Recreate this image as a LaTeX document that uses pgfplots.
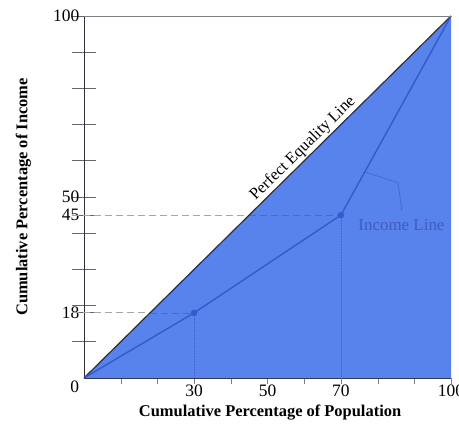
\documentclass[border=0pt]{standalone}
\usepackage{fontspec}
\setmainfont{Liberation Serif}
\usepackage{pgfplots}
\pgfplotsset{compat=1.18}

\definecolor{areablue}{RGB}{88,130,236}
\definecolor{incomeblue}{RGB}{52,90,205}
\definecolor{labelblue}{RGB}{66,92,190}
\definecolor{axisdark}{RGB}{45,45,60}

\begin{document}
\begin{tikzpicture}
\begin{axis}[
    scale only axis,
    width=367bp, height=362bp,
    xmin=0, xmax=100, ymin=0, ymax=100,
    axis lines*=left,
    axis line style={axisdark, line width=1pt},
    clip=false,
    /pgf/number format/assume math mode=true,
    tick label style={font=\fontsize{17.5}{17.5}\selectfont},
    label style={font=\fontsize{16.5}{18}\selectfont\bfseries},
    xtick={10,20,...,100},
    xticklabels={,,30,,50,,70,,,100},
    ytick={10,18,20,30,40,45,50,60,70,80,90,100},
    yticklabels={,18,,,,45,50,,,,,100},
    xtick align=outside,
    ytick align=center,
    xtick style={gray, /pgfplots/major tick length=6bp},
    ytick style={gray!80!black, line width=0.7pt, /pgfplots/major tick length=24bp},
    yticklabel style={xshift=1bp},
    xticklabel style={yshift=1bp},
    xlabel={Cumulative Percentage of Population},
    ylabel={Cumulative Percentage of Income},
    xlabel style={at={(axis description cs:0.507,-0.094)}, anchor=center},
    ylabel style={at={(axis description cs:-0.165,0.5)}, anchor=center},
]
\coordinate (O) at (rel axis cs:0,0);

% area under the equality line
\addplot[fill=areablue, draw=none] coordinates {(0,0) (100,100) (100,0)} \closedcycle;

% guide lines
\addplot[gray!70, dash pattern=on 7bp off 4bp, line width=1pt] coordinates {(-3.3,18) (18,18)};
\addplot[incomeblue!60!areablue, dash pattern=on 7bp off 4bp, line width=0.6pt] coordinates {(18,18) (30,18)};
\addplot[gray!70, dash pattern=on 7bp off 4bp, line width=1pt] coordinates {(-3.3,45) (45,45)};
\addplot[incomeblue!60!areablue, dash pattern=on 7bp off 4bp, line width=0.6pt] coordinates {(45,45) (70,45)};
\addplot[incomeblue!70!areablue, densely dotted, line width=0.6pt] coordinates {(30,18) (30,0)};
\addplot[incomeblue!70!areablue, densely dotted, line width=0.6pt] coordinates {(70,45) (70,0)};

% equality line
\addplot[axisdark, line width=1.2pt] coordinates {(0,0) (100,100)};

% income line
\addplot[incomeblue, line width=1.4pt] coordinates {(0,0) (30,18) (70,45) (100,100)};
\addplot[incomeblue, only marks, mark=*, mark size=3pt] coordinates {(30,18) (70,45)};

% pointer to the label
\addplot[labelblue!80!areablue, line width=0.6pt] coordinates {(76.6,56.9) (85.6,53.9) (86.6,46.2)};

% top line
\addplot[gray, line width=0.6pt] coordinates {(0,100) (100,100)};

\node[rotate=44.6, anchor=south, font=\fontsize{16.5}{16.5}\selectfont, inner sep=2pt]
    at (axis cs:61.5,61.5) {Perfect Equality Line};
\node[labelblue, font=\fontsize{17}{17}\selectfont] at (axis cs:86.5,42.3) {Income Line};
\node[anchor=north east, font=\fontsize{17.5}{17.5}\selectfont, inner sep=1pt] at (axis cs:-1,-0.5) {0};
\end{axis}
\pgfresetboundingbox
\path ([shift={(-84bp,-55bp)}]O) rectangle ([shift={(375bp,378bp)}]O);
\end{tikzpicture}
\end{document}
